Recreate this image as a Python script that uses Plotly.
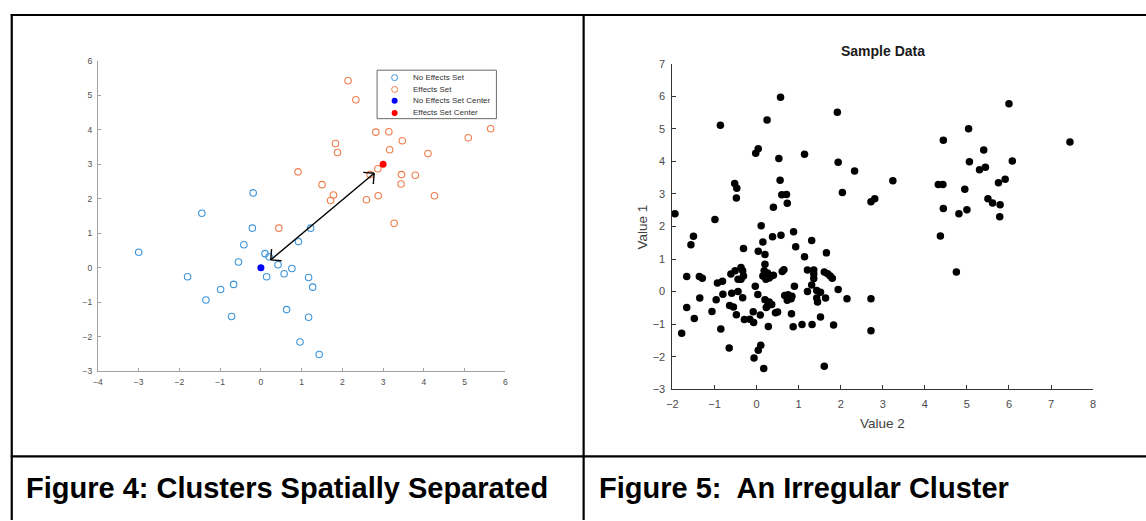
import math
import plotly.graph_objects as go

W, H = 1146, 521

# ---------------- Figure 4 data (left) ----------------
no_eff_x = [-3.00, -1.45, -0.21, -0.42, -0.55, -1.80, -1.35, -0.99, -0.67, -0.72,
            0.10, 0.20, 0.14, 0.42, 0.57, 0.76, 0.92, 1.22, 1.17, 1.27,
            0.63, 1.17, 0.96, 1.43, -0.19]
no_eff_y = [0.45, 1.58, 1.15, 0.67, 0.17, -0.26, -0.93, -0.63, -0.48, -1.41,
            0.41, 0.32, -0.26, 0.09, -0.17, -0.02, 0.76, 1.15, -0.28, -0.56,
            -1.21, -1.43, -2.15, -2.51, 2.17]
eff_x = [2.14, 2.33, 2.82, 3.14, 1.83, 1.88, 3.47, 3.16, 4.10, 5.09,
         5.64, 2.87, 3.45, 3.79, 3.44, 1.50, 1.78, 1.71, 2.59, 2.88,
         4.26, 3.27, 0.91, 0.44, 2.68]
eff_y = [5.42, 4.87, 3.93, 3.94, 3.60, 3.34, 3.68, 3.42, 3.31, 3.77,
         4.03, 2.87, 2.70, 2.68, 2.43, 2.41, 2.11, 1.95, 1.97, 2.09,
         2.09, 1.29, 2.78, 1.15, 2.70]
center_no_eff = [0.0, 0.0]
center_eff = [3.0, 3.0]
arrow_start = [0.24, 0.23]
arrow_end = [2.78, 2.74]
legend_labels = ["No Effects Set", "Effects Set", "No Effects Set Center", "Effects Set Center"]
left_xticks = [-4, -3, -2, -1, 0, 1, 2, 3, 4, 5, 6]
left_yticks = [-3, -2, -1, 0, 1, 2, 3, 4, 5, 6]

# ---------------- Figure 5 data (right) ----------------
sample_x = [-1.94, -0.99, -0.86, -0.52, -0.47, -0.48, -0.02, 0.04, 0.25, 0.11,
            0.40, 0.53, 0.57, 0.68, 0.56, 0.60, 0.71, 0.73, 1.14, 1.92,
            1.94, 2.04, 2.33, 2.72, 2.81, 3.24, 4.44, 5.04, 6.00, 7.45,
            5.40, 5.06, 6.08, 5.30, 5.44, 4.32, 4.43, 4.95, 5.75, 5.91,
            5.50, 5.61, 5.79, 4.44, 4.81, 5.00, 5.78, 4.37, 4.75, 2.72,
            2.72,
            -1.56, -1.50, -1.66, -1.36, -1.29, -1.35, -1.66, -1.48, -1.78, -0.93,
            -0.81, -0.80, -0.96, -1.06, -0.85, -0.65, -0.61, -0.51, -0.37, -0.33,
            -0.31, -0.37, -0.44, -0.59, -0.44, -0.33, -0.64, -0.55, -0.48, -0.29,
            -0.16, -0.07, -0.31, 0.04, 0.15, 0.38, 0.58, -0.03, 0.03, -0.08,
            0.09, 0.28, 0.10, 0.04, -0.06, 0.17, 0.20, 0.20, 0.18, 0.26,
            0.15, 0.22, 0.30, 0.40, 0.35, 0.20, 0.30, 0.26, 0.36, 0.23,
            0.45, 0.50, 0.61, 0.65, 0.90, 0.93, 0.88, 0.67, 0.75, 0.82,
            0.73, 0.84, 0.83, 0.87, 1.08, 1.14, 1.21, 1.31, 1.21, 1.36,
            1.36, 1.36, 1.31, 1.32, 1.43, 1.52, 1.43, 1.45, 1.52, 1.66,
            1.61, 1.69, 1.75, 1.80, 1.64, 1.83, 1.61, 1.94, 2.15]
sample_y = [2.39, 2.21, 5.11, 3.32, 3.17, 2.87, 4.25, 4.39, 5.27, 2.02,
            2.59, 4.09, 5.97, 7.02, 3.42, 2.97, 2.98, 2.71, 4.22, 5.51,
            3.97, 3.04, 3.70, 2.76, 2.85, 3.40, 4.65, 5.00, 5.77, 4.59,
            4.35, 3.99, 4.01, 3.74, 3.82, 3.29, 3.29, 3.14, 3.34, 3.45,
            2.85, 2.72, 2.67, 2.55, 2.39, 2.51, 2.30, 1.71, 0.60, -0.22,
            -1.20,
            1.44, 1.70, 0.46, 0.46, 0.41, -0.20, -0.49, -0.83, -1.28, 0.26,
            0.32, -0.08, -0.25, -0.61, -1.15, -1.73, 0.54, 0.64, 0.74, 0.64,
            0.48, 0.38, 0.38, -0.05, 0.00, -0.19, -0.43, -0.47, -0.71, -0.86,
            -0.85, -0.95, 1.32, 1.24, 1.52, 1.68, 1.73, 0.16, -0.09, -0.62,
            -0.72, -1.07, -1.65, -1.80, -2.04, -2.36, 1.14, 0.84, 0.64, 0.57,
            0.48, 0.38, 0.42, 0.50, 0.48, -0.25, -0.32, -0.44, -0.40, -0.49,
            -0.65, -0.63, 0.62, 0.67, 0.16, 1.38, 1.84, -0.12, -0.10, -0.22,
            -0.27, -0.14, -0.68, -1.08, -1.01, 1.07, 0.66, 1.57, 0.00, 0.66,
            0.54, 0.40, 0.20, -1.01, 0.03, -0.02, -0.20, -0.32, -0.78, 1.19,
            0.60, 0.55, 0.48, 0.41, -0.20, -1.03, -2.29, 0.06, -0.22]
right_xticks = [-2, -1, 0, 1, 2, 3, 4, 5, 6, 7, 8]
right_yticks = [-3, -2, -1, 0, 1, 2, 3, 4, 5, 6, 7]
chart_title = "Sample Data"
xlabel_right = "Value 2"
ylabel_right = "Value 1"
captions = ["Figure 4: Clusters Spatially Separated", "Figure 5:\u00a0 An Irregular Cluster"]


def px(X):
    return X / W


def py(Y):
    return 1 - Y / H


FONT = "Liberation Sans, Arial, Helvetica, sans-serif"
BLUE = "#3d95da"
ORANGE = "#ef7d4c"

# axis geometry (pixels)
L_X0, L_X1, L_Y0, L_Y1 = 92.7, 503.3, 56.0, 374.0
R_X0, R_X1, R_Y0, R_Y1 = 671.7, 1095.7, 59.0, 392.3
L_XR, L_YR = [-4, 6], [-3, 6]
R_XR, R_YR = [-2, 8], [-3, 7]

fig = go.Figure()

fig.add_trace(go.Scatter(x=no_eff_x, y=no_eff_y, mode="markers", xaxis="x", yaxis="y",
                         marker=dict(symbol="circle-open", size=6.5, color=BLUE, line=dict(width=1.1)),
                         cliponaxis=False, showlegend=False))
fig.add_trace(go.Scatter(x=eff_x, y=eff_y, mode="markers", xaxis="x", yaxis="y",
                         marker=dict(symbol="circle-open", size=6.5, color=ORANGE, line=dict(width=1.1)),
                         cliponaxis=False, showlegend=False))
fig.add_trace(go.Scatter(x=[center_no_eff[0]], y=[center_no_eff[1]], mode="markers", xaxis="x", yaxis="y",
                         marker=dict(symbol="circle", size=7, color="#0000ff"), cliponaxis=False, showlegend=False))
fig.add_trace(go.Scatter(x=[center_eff[0]], y=[center_eff[1]], mode="markers", xaxis="x", yaxis="y",
                         marker=dict(symbol="circle", size=7, color="#ff0000"), cliponaxis=False, showlegend=False))

# double headed arrow: shaft + open V heads (computed in pixel space)
sx = (L_X1 - L_X0) / (L_XR[1] - L_XR[0])
sy = (L_Y1 - L_Y0) / (L_YR[1] - L_YR[0])
ax_ = [arrow_start[0], arrow_end[0], None]
ay_ = [arrow_start[1], arrow_end[1], None]
dxp = (arrow_end[0] - arrow_start[0]) * sx
dyp = (arrow_end[1] - arrow_start[1]) * sy
ang = math.atan2(dyp, dxp)
arm, half = 11.0, math.radians(45)
for tip, base_ang in ((arrow_end, ang + math.pi), (arrow_start, ang)):
    for s in (-1, 1):
        a = base_ang + s * half
        ax_ += [tip[0], tip[0] + arm * math.cos(a) / sx, None]
        ay_ += [tip[1], tip[1] + arm * math.sin(a) / sy, None]
fig.add_trace(go.Scatter(x=ax_, y=ay_, mode="lines", xaxis="x", yaxis="y",
                         line=dict(color="black", width=1.4), hoverinfo="skip", showlegend=False))

fig.add_trace(go.Scatter(x=sample_x, y=sample_y, mode="markers", xaxis="x2", yaxis="y2",
                         marker=dict(symbol="circle", size=7.5, color="black"),
                         cliponaxis=False, showlegend=False))

axis_common = dict(showgrid=False, zeroline=False, showline=True, ticks="inside", mirror=False)

fig.update_layout(
    width=W, height=H, margin=dict(l=0, r=0, t=0, b=0),
    paper_bgcolor="white", plot_bgcolor="white",
    font=dict(family=FONT),
    xaxis=dict(domain=[px(L_X0), px(L_X1)], range=L_XR, anchor="y", tickvals=left_xticks,
               linecolor="#a0a0a0", tickcolor="#a0a0a0", ticklen=3, linewidth=1,
               tickfont=dict(size=8.5, color="#4d4d4d"), ticklabelstandoff=2, **axis_common),
    yaxis=dict(domain=[py(L_Y1), py(L_Y0)], range=L_YR, anchor="x", tickvals=left_yticks,
               linecolor="#a0a0a0", tickcolor="#a0a0a0", ticklen=3, linewidth=1,
               tickfont=dict(size=8.5, color="#4d4d4d"), ticklabelstandoff=3, **axis_common),
    xaxis2=dict(domain=[px(R_X0), px(R_X1)], range=R_XR, anchor="y2", tickvals=right_xticks,
                linecolor="#333333", tickcolor="#333333", ticklen=4, linewidth=1,
                tickfont=dict(size=11, color="#4a4a4a"), ticklabelstandoff=5, **axis_common),
    yaxis2=dict(domain=[py(R_Y1), py(R_Y0)], range=R_YR, anchor="x2", tickvals=right_yticks,
                linecolor="#333333", tickcolor="#333333", ticklen=4, linewidth=1,
                tickfont=dict(size=11, color="#4a4a4a"), ticklabelstandoff=4, **axis_common),
)

shapes = []
# table borders
LW = 2.2
shapes.append(dict(type="line", xref="paper", yref="paper", x0=px(4.8), x1=px(W + 5), y0=py(9.2), y1=py(9.2),
                   line=dict(color="black", width=LW)))
shapes.append(dict(type="line", xref="paper", yref="paper", x0=px(4.8), x1=px(W + 5), y0=py(461), y1=py(461),
                   line=dict(color="black", width=LW)))
shapes.append(dict(type="line", xref="paper", yref="paper", x0=px(5.8), x1=px(5.8), y0=py(8.2), y1=py(H + 5),
                   line=dict(color="black", width=LW)))
shapes.append(dict(type="line", xref="paper", yref="paper", x0=px(582.2), x1=px(582.2), y0=py(8.2), y1=py(H + 5),
                   line=dict(color="black", width=LW)))

# legend box (figure 4)
LG_X0, LG_X1, LG_Y0, LG_Y1 = 374.0, 494.3, 65.7, 115.3
shapes.append(dict(type="rect", xref="paper", yref="paper", x0=px(LG_X0), x1=px(LG_X1), y0=py(LG_Y1), y1=py(LG_Y0),
                   line=dict(color="#444444", width=0.8), fillcolor="white", layer="above"))
row_y = [73.3, 85.4, 97.1, 109.4]
leg_styles = [("open", BLUE), ("open", ORANGE), ("fill", "#0000ff"), ("fill", "#ff0000")]
annotations = []
for lab, yy, (kind, col) in zip(legend_labels, row_y, leg_styles):
    r = 3.0
    shapes.append(dict(type="circle", xref="paper", yref="paper", xsizemode="pixel", ysizemode="pixel",
                       xanchor=px(391.7), yanchor=py(yy), x0=-r, x1=r, y0=-r, y1=r,
                       line=dict(color=col, width=1.0 if kind == "open" else 0),
                       fillcolor=col if kind == "fill" else "rgba(0,0,0,0)", layer="above"))
    annotations.append(dict(text=lab, xref="paper", yref="paper", x=px(408.3), y=py(yy), xanchor="left",
                            yanchor="middle", showarrow=False, font=dict(size=8, color="#333333", family=FONT)))

# figure 5 title and axis labels
annotations.append(dict(text="<b>%s</b>" % chart_title, xref="paper", yref="paper", x=px((R_X0 + R_X1) / 2),
                        y=py(46), xanchor="center", yanchor="middle", showarrow=False,
                        font=dict(size=14, color="#1a1a1a", family=FONT)))
annotations.append(dict(text=xlabel_right, xref="paper", yref="paper", x=px((R_X0 + R_X1) / 2), y=py(427.5),
                        xanchor="center", yanchor="middle", showarrow=False,
                        font=dict(size=13.5, color="#404040", family=FONT)))
annotations.append(dict(text=ylabel_right, xref="paper", yref="paper", x=px(641), y=py((R_Y0 + R_Y1) / 2),
                        xanchor="center", yanchor="middle", textangle=-90, showarrow=False,
                        font=dict(size=13.5, color="#404040", family=FONT)))

# captions
for cap, xx in zip(captions, [18, 596]):
    annotations.append(dict(text="<b>%s</b>" % cap, xref="paper", yref="paper", x=px(xx), y=py(493.5),
                            xanchor="left", yanchor="middle", showarrow=False,
                            font=dict(size=29, color="black", family=FONT)))

fig.update_layout(shapes=shapes, annotations=annotations)
fig.write_html("out.html")
